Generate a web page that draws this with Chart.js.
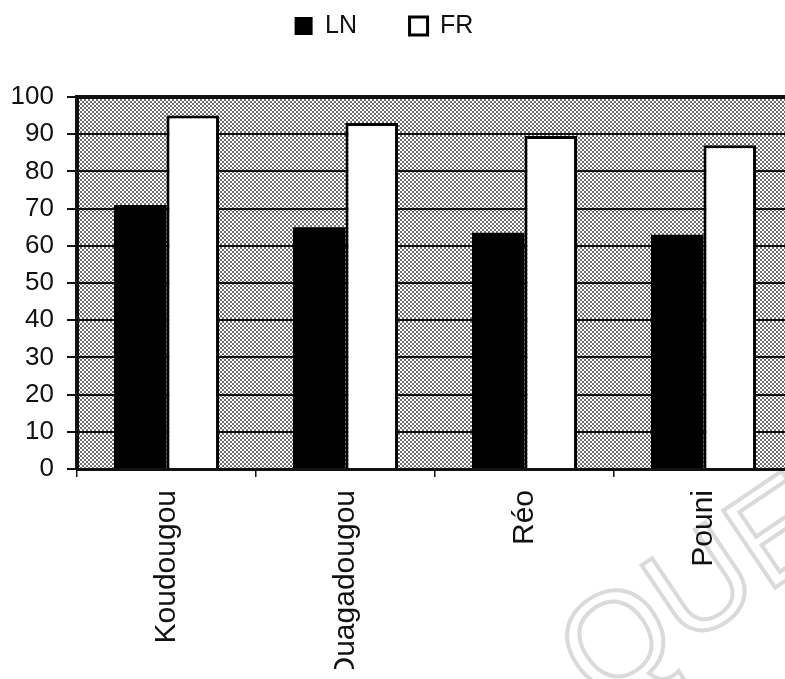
<!DOCTYPE html>
<html>
<head>
<meta charset="utf-8">
<script src="https://cdn.jsdelivr.net/npm/chart.js@4/dist/chart.umd.min.js"></script>
<style>
  html, body { margin: 0; padding: 0; background: #fff; width: 785px; height: 679px; overflow: hidden; position: relative; }
  #wrap { position: absolute; left: -30px; top: -39px; width: 830px; height: 718px; }
  #mark {
    position: absolute; left: 598px; top: 593px;
    font: 135px 'Liberation Sans', Arial, sans-serif; line-height: 1;
    color: transparent; -webkit-text-stroke: 4px #dadada;
    transform-origin: 0 114px; transform: rotate(-34deg); white-space: nowrap;
  }
</style>
</head>
<body>
<div id="mark">QUE</div>
<div id="wrap"><canvas id="chart" width="830" height="718"></canvas></div>
<script>
// Categories and series (percentages per town)
const categories = ['Koudougou', 'Ouagadougou', 'Réo', 'Pouni'];
const seriesNames = ['LN', 'FR'];
const lnValues = [71, 65, 63.5, 63];
const frValues = [95, 93, 89.5, 87];

// Value axis
const yMin = 0;
const yMax = 100;
const yStep = 10;

const FONT = "'Liberation Sans', Arial, Helvetica, sans-serif";
const INK = '#111';

// Dotted grey fill for the plotting area
function stipple(ctx) {
  const tile = document.createElement('canvas');
  tile.width = 4; tile.height = 4;
  const t = tile.getContext('2d');
  t.fillStyle = '#fff'; t.fillRect(0, 0, 4, 4);
  t.fillStyle = '#6e6e6e';
  t.fillRect(0, 0, 2, 2);
  t.fillRect(2, 2, 2, 2);
  return ctx.createPattern(tile, 'repeat');
}

const plotBackground = {
  id: 'plotBackground',
  beforeDraw(chart) {
    const { ctx, chartArea: a } = chart;
    ctx.save();
    ctx.fillStyle = stipple(ctx);
    ctx.fillRect(a.left, a.top, a.right - a.left, a.bottom - a.top);
    ctx.restore();
  }
};

// Extra room between the legend row and the plot
const legendGap = {
  id: 'legendGap',
  beforeUpdate(chart) {
    const lg = chart.legend;
    if (lg && !lg._gapAdded) {
      const fit = lg.fit.bind(lg);
      lg.fit = function () { fit(); this.height += 48.5; };
      lg._gapAdded = true;
    }
  }
};

Chart.defaults.font.family = FONT;
Chart.defaults.color = INK;

new Chart(document.getElementById('chart'), {
  type: 'bar',
  data: {
    labels: categories,
    datasets: [
      { label: seriesNames[0], data: lnValues, backgroundColor: '#000', borderColor: '#000', borderWidth: 0 },
      { label: seriesNames[1], data: frValues, backgroundColor: '#fff', borderColor: '#000', borderWidth: 3 }
    ]
  },
  options: {
    responsive: false,
    animation: false,
    devicePixelRatio: 1,
    categoryPercentage: 0.587,
    barPercentage: 1.0,
    layout: { padding: { left: 5, right: 7, top: 0, bottom: 10 } },
    plugins: {
      tooltip: { enabled: false },
      legend: {
        position: 'top',
        align: 'center',
        labels: { boxWidth: 18, boxHeight: 18, padding: 52.5, color: INK, font: { family: FONT, size: 25 } }
      }
    },
    scales: {
      x: {
        offset: true,
        ticks: { color: INK, font: { family: FONT, size: 30 }, minRotation: 90, maxRotation: 90, autoSkip: false, padding: 13 },
        grid: { offset: true, drawOnChartArea: false, drawTicks: true, tickLength: 8, color: INK, lineWidth: 1.5 },
        border: { color: INK, width: 3 },
        afterFit: s => { s.height = 200; }
      },
      y: {
        min: yMin,
        max: yMax,
        ticks: { stepSize: yStep, color: INK, font: { family: FONT, size: 26 }, padding: 13 },
        grid: {
          color: INK,
          lineWidth: c => (c.tick && c.tick.value === yMax ? 4 : 2),
          tickLength: 10, tickWidth: 2, tickColor: INK
        },
        border: { color: INK, width: 4 },
        afterFit: s => { s.width = 102; }
      }
    }
  },
  plugins: [plotBackground, legendGap]
});
</script>
</body>
</html>
